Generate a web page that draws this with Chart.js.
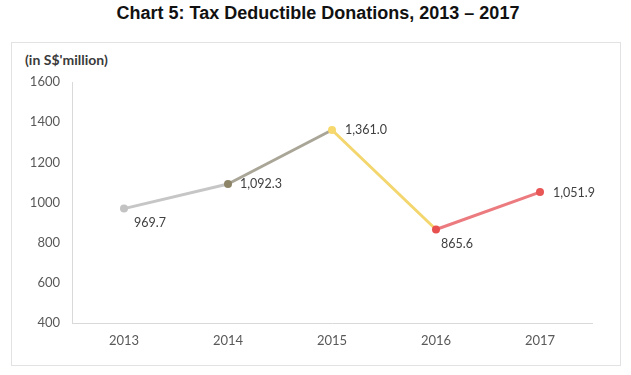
<!DOCTYPE html>
<html>
<head>
<meta charset="utf-8">
<script src="https://cdn.jsdelivr.net/npm/chart.js@4"></script>
<style>
  body { margin: 0; width: 631px; height: 375px; background: #fff; overflow: hidden; position: relative; }
  #title { position: absolute; top: 3px; left: 0; width: 636px; text-align: center;
           font: bold 18px "Liberation Sans", Arial, sans-serif; color: #111; }
  #box { position: absolute; left: 11px; top: 42px; width: 608px; height: 322px; border: 1px solid #e2e2e2; }
  #unit { position: absolute; left: 25px; top: 51px; font: bold 14px Lato, sans-serif; color: #3a3a3a; }
  #wrap { position: absolute; left: 0; top: 0; width: 631px; height: 375px; }
</style>
</head>
<body>
<div id="title">Chart 5: Tax Deductible Donations, 2013 – 2017</div>
<div id="box"></div>
<div id="unit">(in S$'million)</div>
<div id="wrap"><canvas id="chart" width="631" height="375"></canvas></div>
<script>
// --- DATI ---
const years = ["2013", "2014", "2015", "2016", "2017"];
const donations = [969.7, 1092.3, 1361.0, 865.6, 1051.9];
const yTicks = [400, 600, 800, 1000, 1200, 1400, 1600];

// colori dei punti e dei tratti
const pointColors = ["#c3c3c3", "#8d8468", "#f6d86c", "#e8504f", "#e85656"];
const segmentColors = ["#c6c6c6", "#a9a597", "#f3d66e", "#ec7b80"];
// posizione etichette: dx, dy
const labelPos = [[10, 14], [12, 0], [13, 0], [5, 14], [13, 1]];

// etichette dei valori
const valueLabels = {
  id: "valueLabels",
  afterDatasetsDraw(chart) {
    const ctx = chart.ctx;
    const meta = chart.getDatasetMeta(0);
    ctx.save();
    ctx.font = "12.5px Lato, sans-serif";
    ctx.fillStyle = "#404040";
    ctx.textAlign = "left";
    ctx.textBaseline = "middle";
    meta.data.forEach((pt, i) => {
      const txt = donations[i].toLocaleString("en-US", { minimumFractionDigits: 1, maximumFractionDigits: 1 });
      ctx.fillText(txt, pt.x + labelPos[i][0], pt.y + labelPos[i][1]);
    });
    ctx.restore();
  }
};

new Chart(document.getElementById("chart"), {
  type: "line",
  data: {
    labels: years,
    datasets: [{
      data: donations,
      borderWidth: 3,
      borderColor: "#c6c6c6",
      segment: {
        borderColor: c => segmentColors[c.p0DataIndex]
      },
      pointRadius: 4,
      pointBorderWidth: 0,
      pointBackgroundColor: pointColors,
      tension: 0
    }]
  },
  options: {
    responsive: false,
    animation: false,
    layout: { padding: { left: 0, right: 39, top: 82, bottom: 0 } },
    plugins: { legend: { display: false }, tooltip: { enabled: false } },
    scales: {
      x: {
        offset: true,
        grid: { display: false, drawTicks: false },
        border: { display: true, color: "#d9d9d9" },
        ticks: { color: "#595959", font: { family: "Lato", size: 13 }, padding: 10 },
        afterFit: s => { s.height = 52; }
      },
      y: {
        min: 400,
        max: 1600,
        afterBuildTicks: s => { s.ticks = yTicks.map(v => ({ value: v })); },
        grid: { display: false, drawTicks: false },
        border: { display: true, color: "#d9d9d9" },
        ticks: { color: "#595959", font: { family: "Lato", size: 13 }, padding: 12,
                 callback: v => String(v) },
        afterFit: s => { s.width = 72; }
      }
    }
  },
  plugins: [valueLabels]
});
</script>
</body>
</html>
